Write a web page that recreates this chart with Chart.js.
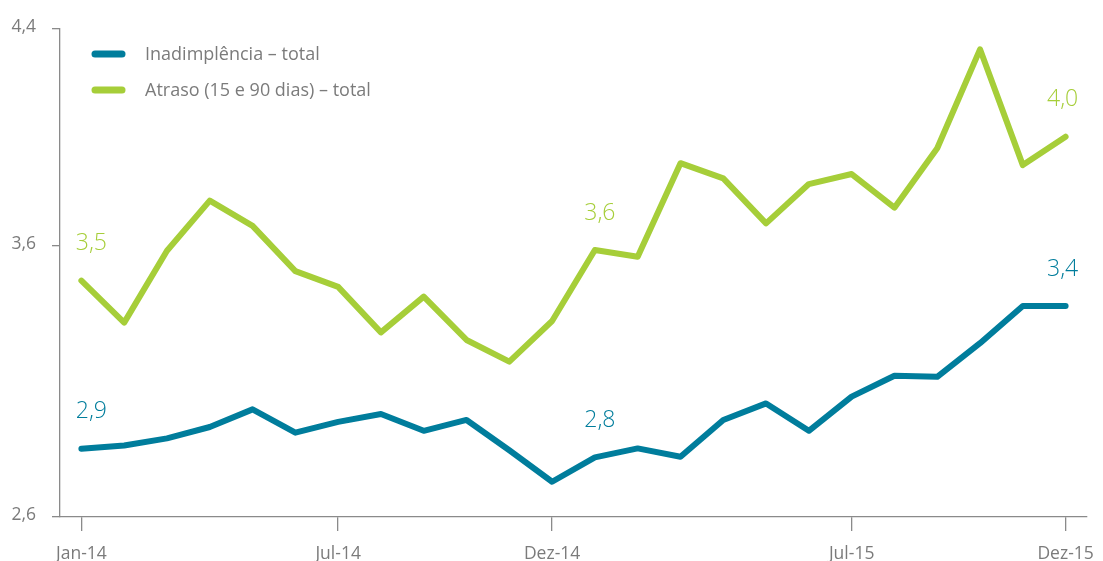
<!DOCTYPE html>
<html lang="pt-BR">
<head>
<meta charset="utf-8">
<title>Inadimplência e atraso</title>
<script src="https://cdn.jsdelivr.net/npm/chart.js@4/dist/chart.umd.min.js"></script>
<style>
    html, body { margin: 0; padding: 0; background: #fff; }
    #grafico { display: block; }
</style>
</head>
<body>
<canvas id="grafico" width="1103" height="561"></canvas>
<script>
// Meses (jan/2014 a dez/2015)
const meses = ['Jan-14', 'Fev-14', 'Mar-14', 'Abr-14', 'Mai-14', 'Jun-14', 'Jul-14', 'Ago-14', 'Set-14', 'Out-14', 'Nov-14', 'Dez-14',
               'Jan-15', 'Fev-15', 'Mar-15', 'Abr-15', 'Mai-15', 'Jun-15', 'Jul-15', 'Ago-15', 'Set-15', 'Out-15', 'Nov-15', 'Dez-15'];
// Só estes meses aparecem no eixo X
const rotulosEixoX = ['Jan-14', 'Jul-14', 'Dez-14', 'Jul-15', 'Dez-15'];

// Valores (%)
const inadimplencia = [2.852, 2.864, 2.890, 2.932, 2.997, 2.911, 2.951, 2.980, 2.918, 2.958, 2.846, 2.730,
                       2.820, 2.853, 2.822, 2.958, 3.019, 2.918, 3.044, 3.121, 3.117, 3.241, 3.378, 3.378];
const atraso = [3.472, 3.317, 3.582, 3.767, 3.674, 3.507, 3.449, 3.281, 3.413, 3.253, 3.173, 3.323,
                3.585, 3.560, 3.905, 3.849, 3.683, 3.828, 3.865, 3.741, 3.960, 4.325, 3.898, 4.003];

const ticksY = [2.6, 3.6, 4.4];
// Pontos com o valor escrito acima
const pontosRotulados = [0, 12, 23];

const AZUL = '#007d9c';
const VERDE = '#a6ce39';
const CINZA = '#8a8a8a';
const TEXTO = '#7b7b7b';
const FONTE = "'Open Sans', 'Noto Sans', sans-serif";

function formata(v) {
    return v.toFixed(1).replace('.', ',');
}

// Legenda desenhada dentro da área do gráfico (canto superior esquerdo)
const legendaPlugin = {
    id: 'legendaInterna',
    afterDraw(chart) {
        const ctx = chart.ctx;
        const area = chart.chartArea;
        ctx.save();
        chart.data.datasets.forEach((ds, i) => {
            const y = area.top + 25 + i * 36;
            ctx.strokeStyle = ds.borderColor;
            ctx.lineWidth = 7;
            ctx.lineCap = 'round';
            ctx.beginPath();
            ctx.moveTo(area.left + 35, y);
            ctx.lineTo(area.left + 62, y);
            ctx.stroke();
            ctx.fillStyle = TEXTO;
            ctx.font = '18px ' + FONTE;
            ctx.textBaseline = 'middle';
            ctx.textAlign = 'left';
            ctx.fillText(ds.label, area.left + 85, y + 1);
        });
        ctx.restore();
    }
};

// Valores escritos sobre alguns pontos
const valoresPlugin = {
    id: 'valores',
    afterDatasetsDraw(chart) {
        const ctx = chart.ctx;
        ctx.save();
        ctx.font = '300 23px ' + FONTE;
        ctx.textAlign = 'center';
        ctx.textBaseline = 'middle';
        chart.data.datasets.forEach((ds, i) => {
            const meta = chart.getDatasetMeta(i);
            pontosRotulados.forEach(idx => {
                const pt = meta.data[idx];
                let dx = 5;
                if (idx === 0) dx = 10;
                if (idx === ds.data.length - 1) dx = -3;
                ctx.fillStyle = ds.borderColor;
                ctx.fillText(formata(ds.data[idx]), pt.x + dx, pt.y - 37);
            });
        });
        ctx.restore();
    }
};

const ctx = document.getElementById('grafico').getContext('2d');
new Chart(ctx, {
    type: 'line',
    data: {
        labels: meses,
        datasets: [
            {
                label: 'Inadimplência – total',
                data: inadimplencia,
                borderColor: AZUL,
                borderWidth: 6,
                borderCapStyle: 'round',
                borderJoinStyle: 'round',
                pointRadius: 0,
                tension: 0,
                fill: false
            },
            {
                label: 'Atraso (15 e 90 dias) – total',
                data: atraso,
                borderColor: VERDE,
                borderWidth: 6,
                borderCapStyle: 'round',
                borderJoinStyle: 'round',
                pointRadius: 0,
                tension: 0,
                fill: false
            }
        ]
    },
    options: {
        responsive: false,
        animation: false,
        layout: { padding: { top: 29, right: 16, left: 0, bottom: 0 } },
        plugins: {
            legend: { display: false },
            tooltip: { enabled: false }
        },
        scales: {
            x: {
                offset: true,
                afterFit(scale) {
                    scale.height = 44;
                    scale.paddingLeft = 0;
                    scale.paddingRight = 0;
                },
                border: { display: true, color: CINZA, width: 1.3 },
                grid: {
                    drawOnChartArea: false,
                    drawTicks: true,
                    tickLength: 14,
                    lineWidth: 1.3,
                    color: c => rotulosEixoX.includes(meses[c.index]) ? CINZA : 'rgba(0,0,0,0)'
                },
                ticks: {
                    autoSkip: false,
                    maxRotation: 0,
                    padding: 13,
                    color: TEXTO,
                    font: { family: FONTE, size: 17.5 },
                    callback: (v, i) => rotulosEixoX.includes(meses[i]) ? meses[i] : ''
                }
            },
            y: {
                min: 2.6,
                max: 4.4,
                afterFit(scale) {
                    scale.width = 60;
                    scale.paddingTop = 0;
                    scale.paddingBottom = 0;
                },
                afterBuildTicks(scale) { scale.ticks = ticksY.map(v => ({ value: v })); },
                border: { display: true, color: CINZA, width: 1.3 },
                grid: {
                    drawOnChartArea: false,
                    drawTicks: true,
                    tickLength: 8,
                    lineWidth: 1.3,
                    color: CINZA
                },
                ticks: {
                    padding: 16,
                    labelOffset: -2,
                    color: TEXTO,
                    font: { family: FONTE, size: 17.5 },
                    callback: v => formata(v)
                }
            }
        }
    },
    plugins: [legendaPlugin, valoresPlugin]
});
</script>
</body>
</html>
